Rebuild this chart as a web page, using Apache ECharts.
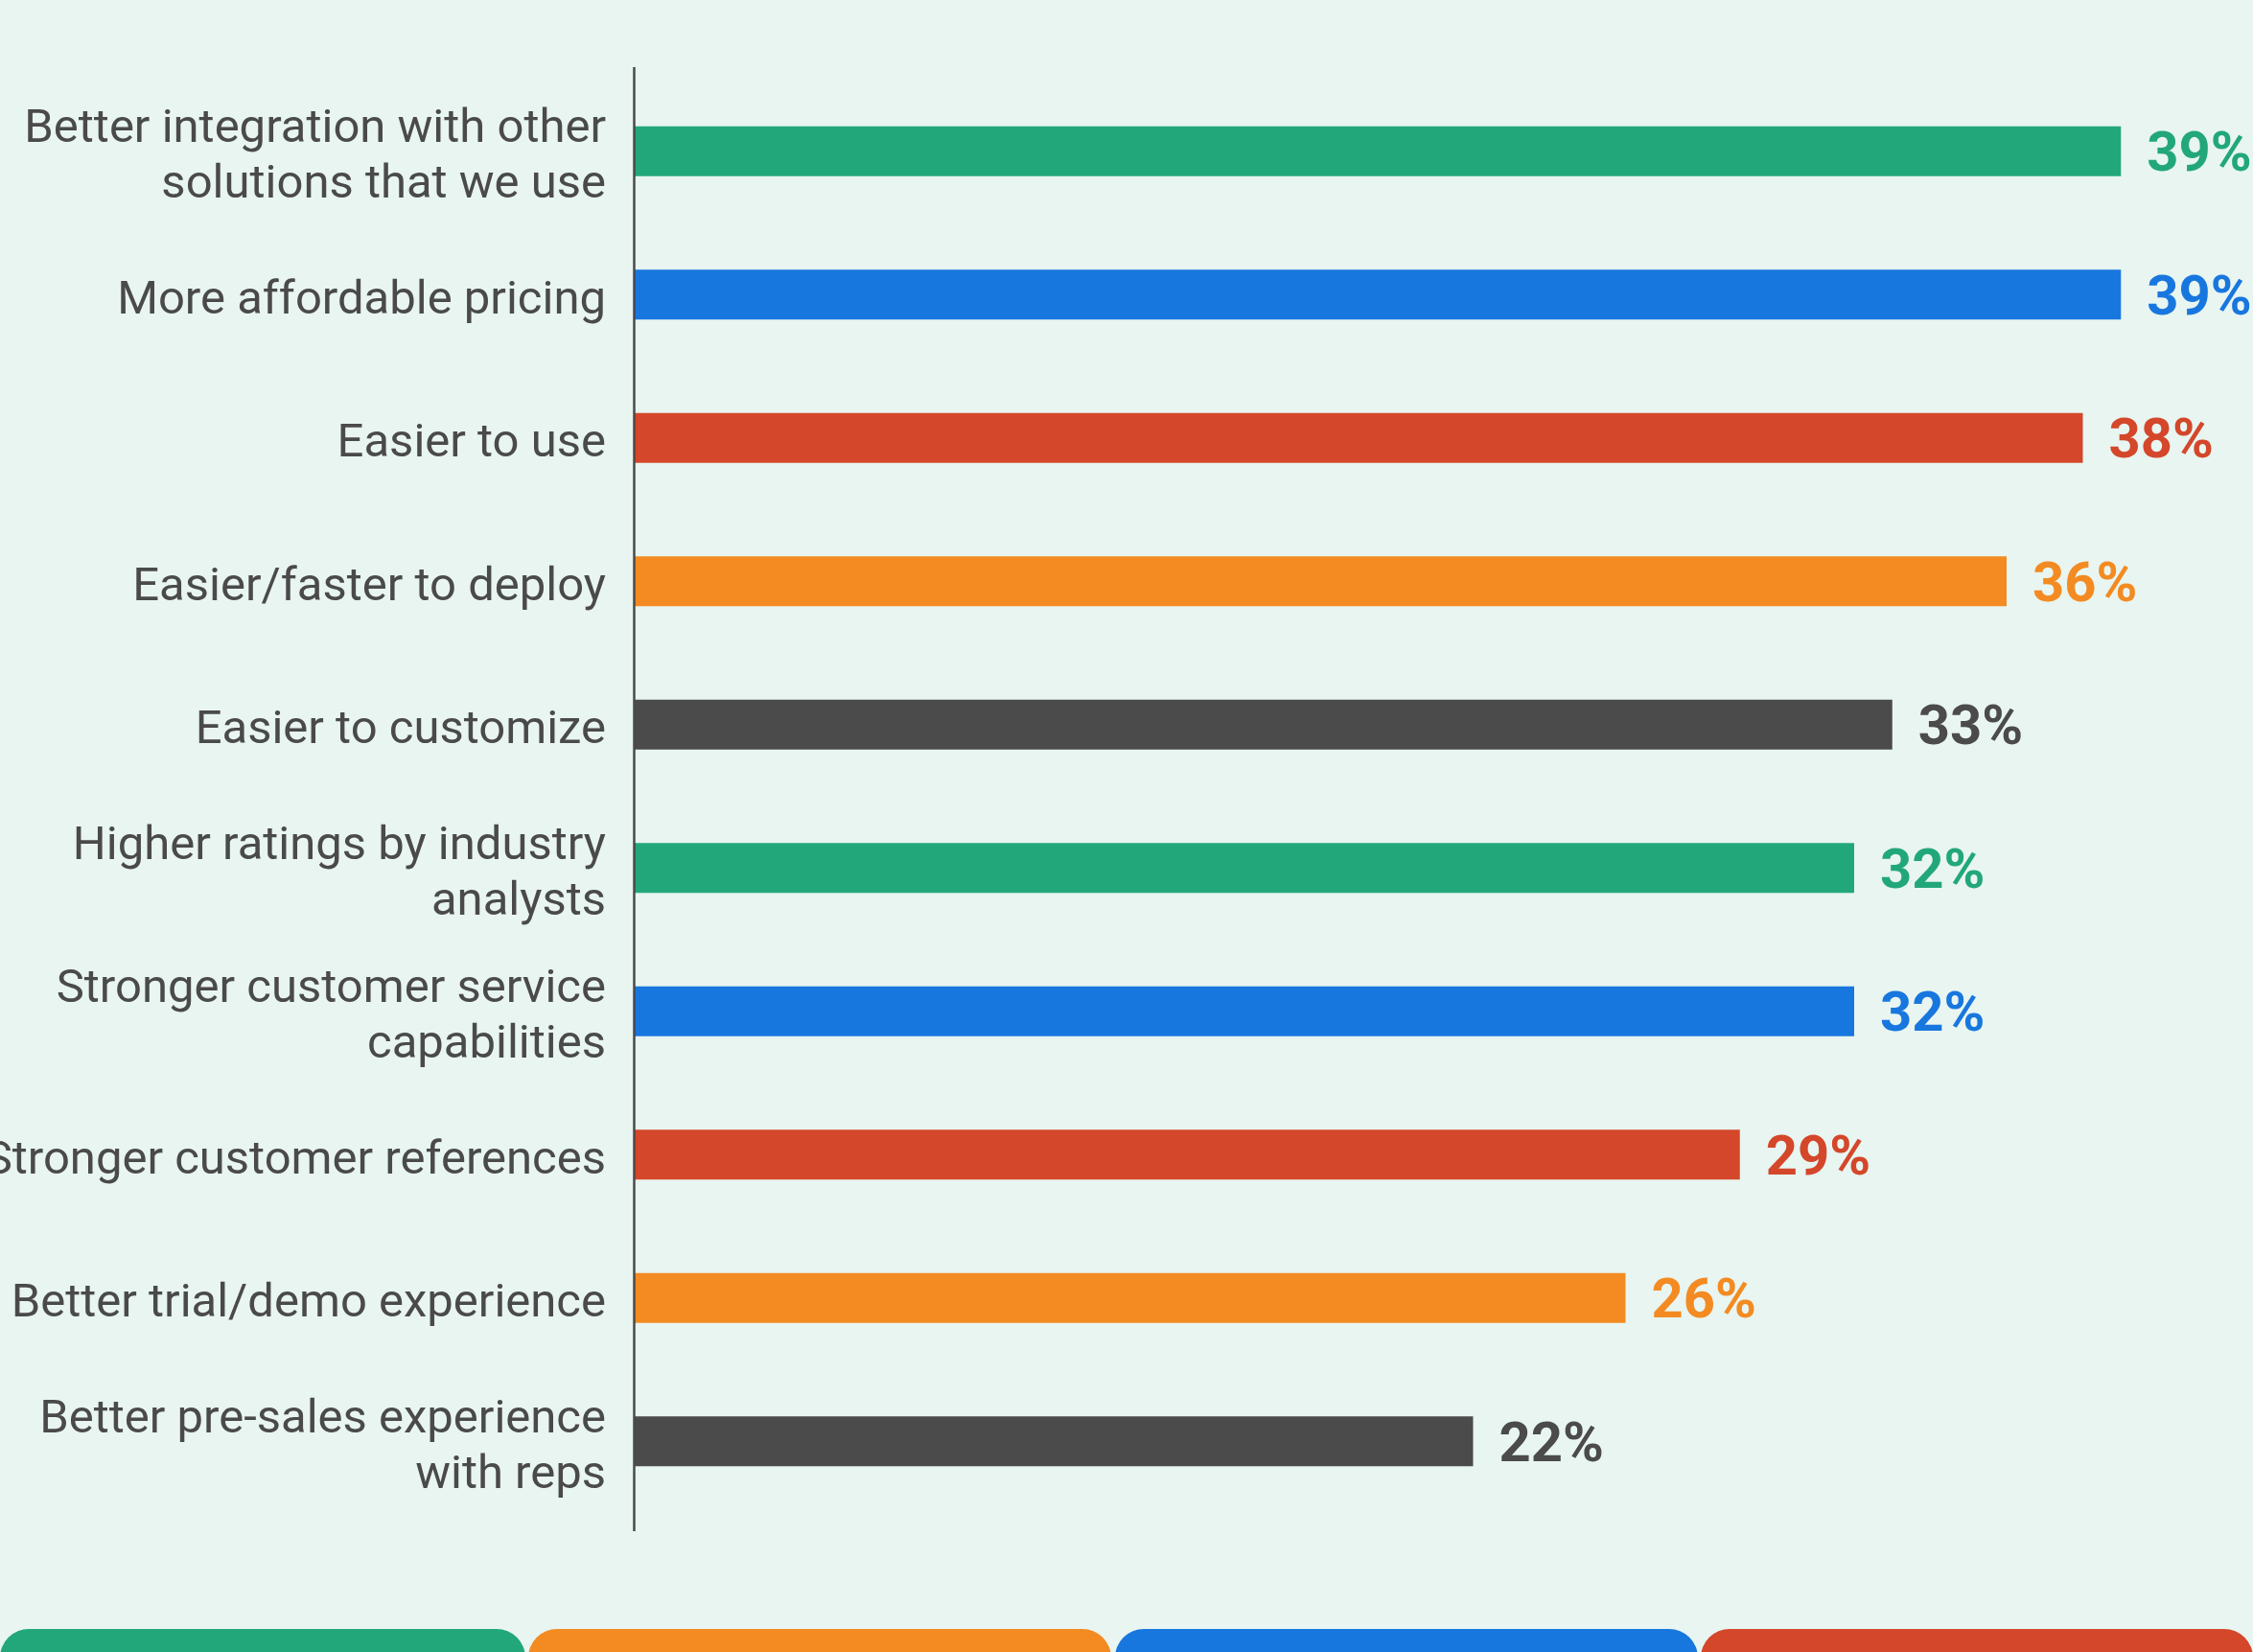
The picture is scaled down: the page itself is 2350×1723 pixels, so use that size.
<!DOCTYPE html>
<html>
<head>
<meta charset="utf-8">
<script src="https://cdn.jsdelivr.net/npm/echarts@6/dist/echarts.min.js"></script>
<style>
html,body{margin:0;padding:0;background:#E8F5F0;}
#chart{width:2350px;height:1723px;}
</style>
</head>
<body>
<div id="chart"></div>
<script>
const categories = [
  "Better integration with other\nsolutions that we use",
  "More affordable pricing",
  "Easier to use",
  "Easier/faster to deploy",
  "Easier to customize",
  "Higher ratings by industry\nanalysts",
  "Stronger customer service\ncapabilities",
  "Stronger customer references",
  "Better trial/demo experience",
  "Better pre-sales experience\nwith reps"
];
const values = [39, 39, 38, 36, 33, 32, 32, 29, 26, 22];
const barColors = ["#22A77B", "#1877DE", "#D4472A", "#F38B22", "#4A4B4A",
                   "#22A77B", "#1877DE", "#D4472A", "#F38B22", "#4A4B4A"];
const stripColors = ["#22A77B", "#F38B22", "#1877DE", "#D4472A"];

const chart = echarts.init(document.getElementById('chart'), null, {renderer: 'canvas'});
const stripX = [[0, 548], [551, 1159], [1163, 1771], [1774, 2350]];
const option = {
  backgroundColor: '#E8F5F0',
  animation: false,
  grid: [
    {left: 662, right: 98, top: 83, bottom: 145, containLabel: false, outerBoundsMode: 'none'},
    {left: 662, right: 98, top: 90, bottom: 138, containLabel: false, outerBoundsMode: 'none'}
  ],
  xAxis: [
    {type: 'value', min: 0, max: 40, show: false, gridIndex: 0},
    {type: 'value', min: 0, max: 40, show: false, gridIndex: 1}
  ],
  yAxis: [
    {
      type: 'category', inverse: true, data: categories, gridIndex: 0,
      axisLine: {show: false}, axisTick: {show: false}, splitLine: {show: false},
      axisLabel: {show: false}
    },
    {
      type: 'category', inverse: true, data: categories, gridIndex: 1,
      axisLine: {show: false}, axisTick: {show: false}, splitLine: {show: false},
      axisLabel: {
        margin: 30, fontSize: 49, lineHeight: 58, color: '#4A4A4A',
        fontFamily: 'Roboto', align: 'right'
      }
    }
  ],
  series: [{
    type: 'bar',
    xAxisIndex: 0, yAxisIndex: 0,
    barWidth: 52,
    data: values.map((v, i) => ({value: v, itemStyle: {color: barColors[i]},
      label: {color: barColors[i]}})),
    label: {
      show: true, position: 'right', distance: 27, offset: [0, 6],
      fontSize: 58, fontWeight: 'bold', fontFamily: 'Roboto',
      formatter: p => p.value + '%'
    }
  }],
  graphic: [
    {type: 'line', shape: {x1: 661.5, y1: 70, x2: 661.5, y2: 1597},
     style: {stroke: '#4A4A4A', lineWidth: 2.5}, z: 10}
  ].concat(stripX.map((s, i) => ({
    type: 'rect', shape: {x: s[0], y: 1699, width: s[1] - s[0], height: 60, r: [30, 30, 0, 0]},
    style: {fill: stripColors[i]}
  })))
};
chart.setOption(option);
</script>
</body>
</html>
